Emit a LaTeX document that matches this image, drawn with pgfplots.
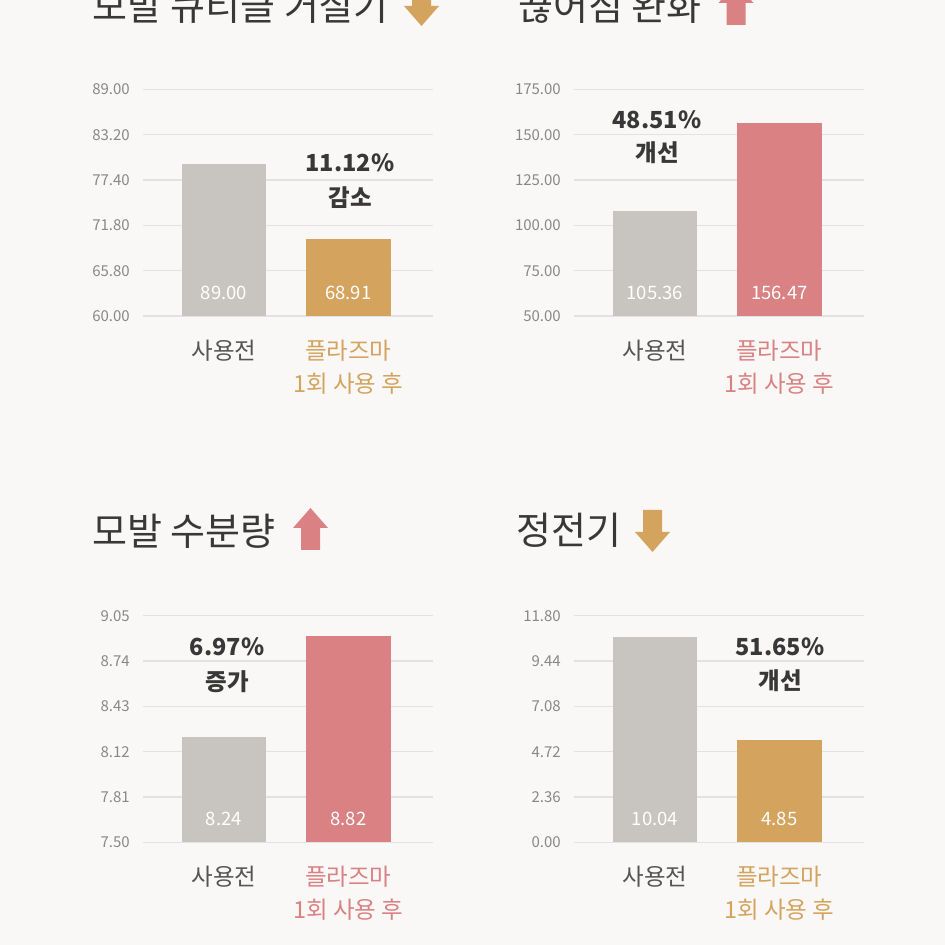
\documentclass[border=0pt]{standalone}
\usepackage{pgfplots}
\pgfplotsset{compat=1.18}
\usepackage{fontspec}
\setmainfont{Noto Sans CJK KR}
\definecolor{bg}{HTML}{F9F8F7}
\definecolor{bargray}{HTML}{C8C5C0}
\definecolor{bargold}{HTML}{D4A45E}
\definecolor{barpink}{HTML}{D98183}
\definecolor{titletext}{HTML}{383838}
\definecolor{ticktext}{HTML}{888888}
\definecolor{cattext}{HTML}{555555}
\definecolor{gridc}{HTML}{E2E2E2}
\pgfplotsset{
 panel/.style={
  scale only axis, width=290pt, height=226.5pt,
  xmin=-0.65, xmax=1.68,
  axis line style={draw=none},
  major tick style={draw=none},
  ymajorgrids, grid style={gridc, line width=1.2pt},
  xtick={0,1},
  xticklabel style={anchor=north, inner sep=0pt, yshift=-24pt, align=center, font=\fontsize{23.5}{33}\selectfont},
  yticklabel style={anchor=east, inner sep=0pt, xshift=-13pt, font=\fontsize{15}{17}\selectfont, text=ticktext},
  /pgf/number format/assume math mode=true,
 },
 barbar/.style={ybar, bar width=84.5pt, bar shift=0pt, draw=none, fill=#1},
 vlab/.style={draw=none, mark=none, nodes near coords, point meta=explicit symbolic,
   nodes near coords style={anchor=center, yshift=23pt, text=white, font=\fontsize{18.5}{22}\selectfont}},
}
\begin{document}
\begin{tikzpicture}
\begin{scope}[x=1pt,y=1pt]
\fill[bg] (0,0) rectangle (945,945);
\clip (0,0) rectangle (945,945);
% titles
\tikzset{ttl/.style={anchor=base west, inner sep=0pt, text=titletext, font=\fontsize{38}{44}\selectfont}}
\node[ttl] at (92,924) {모발 큐티클 거칠기};
\node[ttl] at (518,924) {끊어짐 완화};
\node[ttl] at (92,399) {모발 수분량};
\node[ttl] at (516,400) {정전기};
% arrows
\fill[bargold] (412,961) -- (431,961) -- (431,939) -- (439,939) -- (421.5,919) -- (404,939) -- (412,939) -- cycle;
\fill[barpink] (726.5,920) -- (745.5,920) -- (745.5,942) -- (753.5,942) -- (736,962) -- (718.5,942) -- (726.5,942) -- cycle;
\fill[barpink] (301,395) -- (320,395) -- (320,417) -- (328,417) -- (310.5,437) -- (293,417) -- (301,417) -- cycle;
\fill[bargold] (643,435) -- (662,435) -- (662,413) -- (670,413) -- (652.5,393) -- (635,413) -- (643,413) -- cycle;
\end{scope}

% Panel 1
\begin{axis}[panel, at={(143pt,629pt)}, anchor=south west,
  ymin=60, ymax=89,
  ytick={60,65.8,71.6,77.4,83.2,89},
  yticklabels={60.00,65.80,71.80,77.40,83.20,89.00},
  xticklabels={{\color{cattext}사용전},{\color{bargold}플라즈마\\\color{bargold}1회 사용 후}}]
\addplot[barbar=bargray] coordinates {(0,79.4)};
\addplot[barbar=bargold] coordinates {(1,69.85)};
\addplot[vlab] coordinates {(0,60) [89.00] (1,60) [68.91]};
\end{axis}

% Panel 2
\begin{axis}[panel, at={(574pt,629pt)}, anchor=south west,
  ymin=50, ymax=175,
  ytick={50,75,100,125,150,175},
  yticklabels={50.00,75.00,100.00,125.00,150.00,175.00},
  xticklabels={{\color{cattext}사용전},{\color{barpink}플라즈마\\\color{barpink}1회 사용 후}}]
\addplot[barbar=bargray] coordinates {(0,108.2)};
\addplot[barbar=barpink] coordinates {(1,156.6)};
\addplot[vlab] coordinates {(0,50) [105.36] (1,50) [156.47]};
\end{axis}

% Panel 3
\begin{axis}[panel, at={(143pt,102.7pt)}, anchor=south west,
  ymin=7.5, ymax=9.05,
  ytick={7.5,7.81,8.12,8.43,8.74,9.05},
  yticklabels={7.50,7.81,8.12,8.43,8.74,9.05},
  xticklabels={{\color{cattext}사용전},{\color{barpink}플라즈마\\\color{barpink}1회 사용 후}}]
\addplot[barbar=bargray] coordinates {(0,8.22)};
\addplot[barbar=barpink] coordinates {(1,8.91)};
\addplot[vlab] coordinates {(0,7.5) [8.24] (1,7.5) [8.82]};
\end{axis}

% Panel 4
\begin{axis}[panel, at={(574pt,102.7pt)}, anchor=south west,
  ymin=0, ymax=11.8,
  ytick={0,2.36,4.72,7.08,9.44,11.8},
  yticklabels={0.00,2.36,4.72,7.08,9.44,11.80},
  xticklabels={{\color{cattext}사용전},{\color{bargold}플라즈마\\\color{bargold}1회 사용 후}}]
\addplot[barbar=bargray] coordinates {(0,10.71)};
\addplot[barbar=bargold] coordinates {(1,5.33)};
\addplot[vlab] coordinates {(0,0) [10.04] (1,0) [4.85]};
\end{axis}

% annotations
\begin{scope}[x=1pt,y=1pt]
\tikzset{ann/.style={text=titletext, font=\fontsize{23.5}{28}\selectfont\bfseries, inner sep=0pt}}
\node[ann] at (350,782) {11.12\%};
\node[ann] at (350,747) {감소};
\node[ann] at (657,825) {48.51\%};
\node[ann] at (657,792) {개선};
\node[ann] at (227,298) {6.97\%};
\node[ann] at (227,263) {증가};
\node[ann] at (780,298) {51.65\%};
\node[ann] at (780,264) {개선};
\end{scope}
\end{tikzpicture}
\end{document}
